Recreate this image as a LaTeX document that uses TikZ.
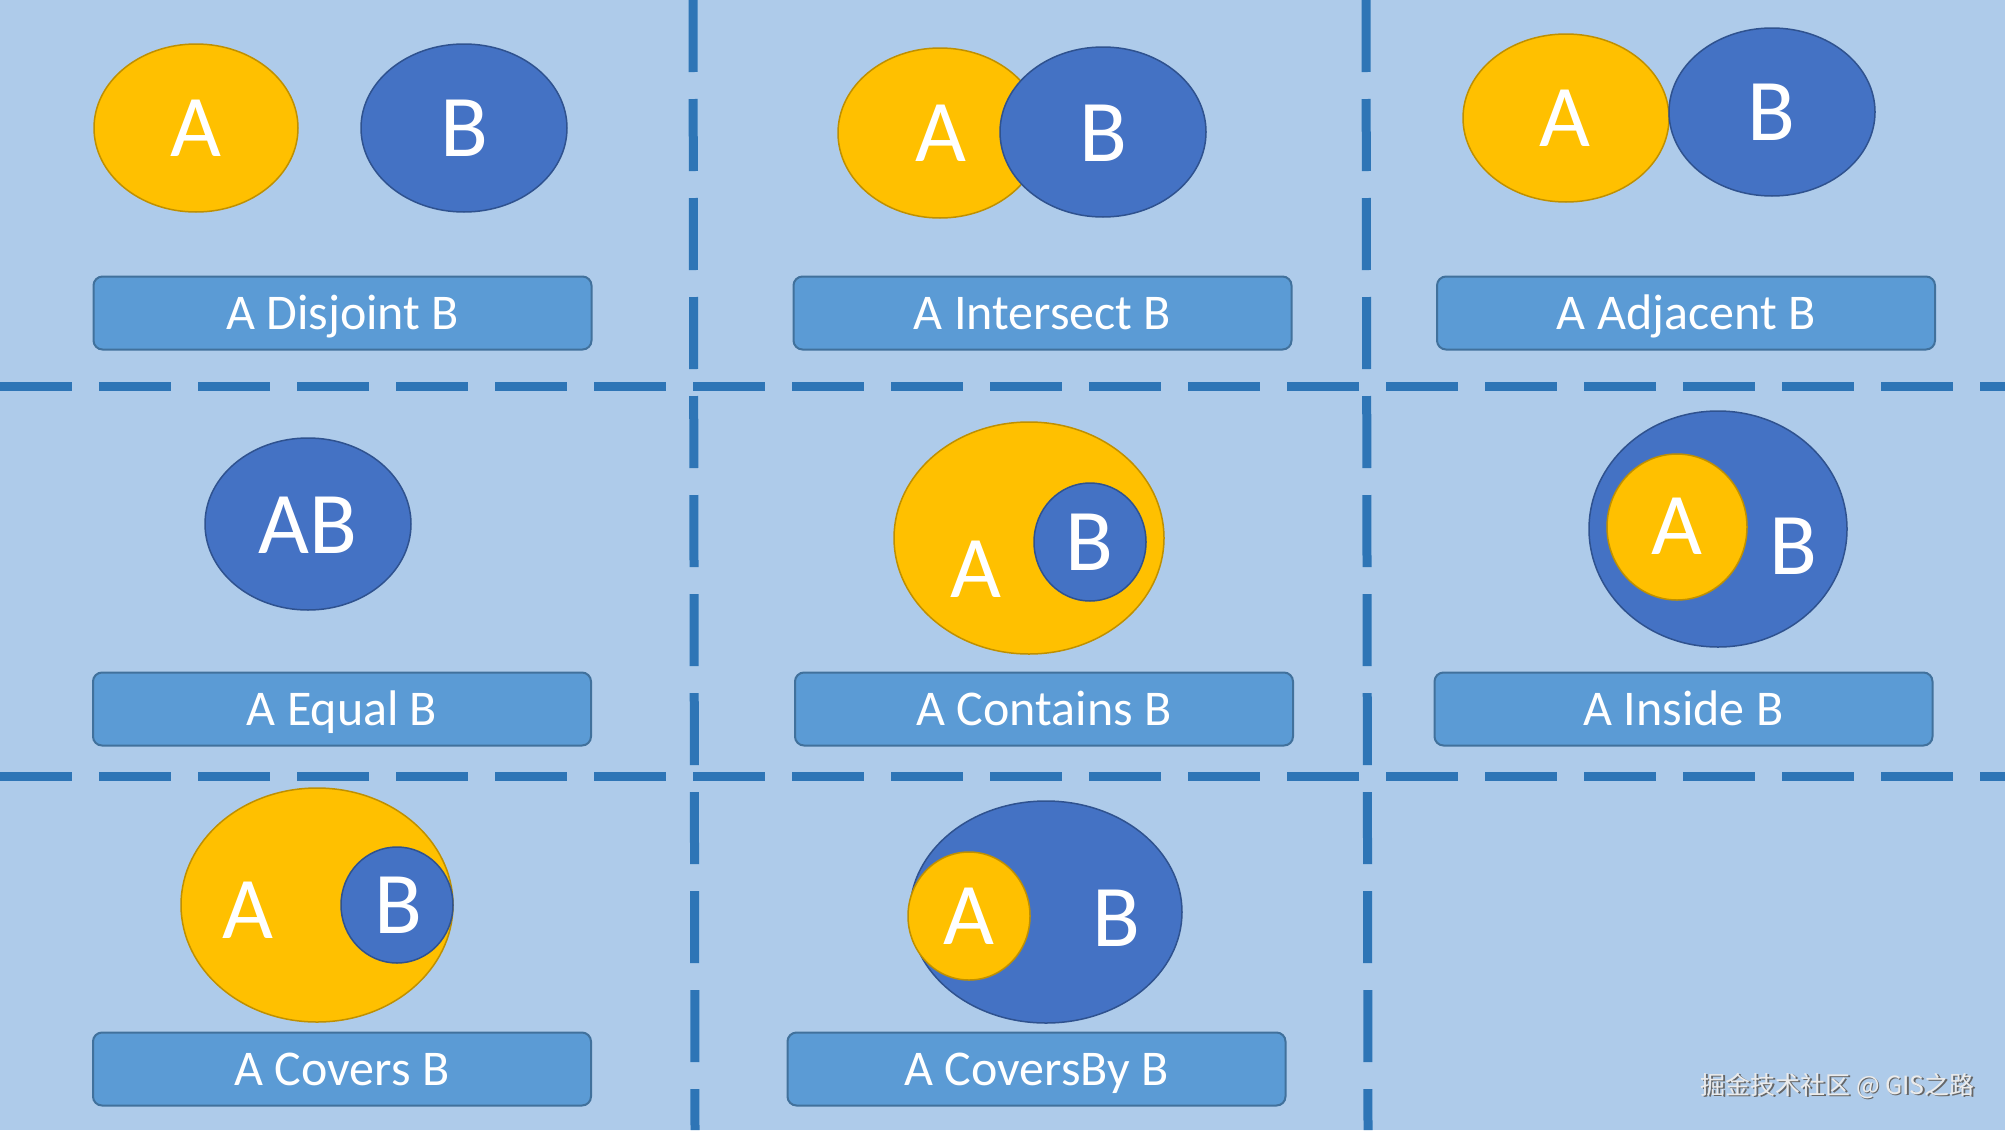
\documentclass[tikz,border=0pt]{standalone}
\usepackage{fontspec}
\setmainfont{Carlito}
\newfontfamily\cjkwm{Noto Sans CJK SC}
\definecolor{bg}{HTML}{AECBEA}
\definecolor{dline}{HTML}{2E75B6}
\definecolor{ya}{HTML}{FFC000}
\definecolor{yaB}{HTML}{BF9000}
\definecolor{bb}{HTML}{4472C4}
\definecolor{bbB}{HTML}{2F528F}
\definecolor{lab}{HTML}{5B9BD5}
\definecolor{labB}{HTML}{41719C}
\begin{document}
\begin{tikzpicture}[x=1pt,y=-1pt,
  sepline/.style={dline, line width=9pt, dash pattern=on 72pt off 27pt},
  setA/.style={fill=ya, draw=yaB, line width=1.5pt},
  setB/.style={fill=bb, draw=bbB, line width=1.5pt},
  labelbox/.style={fill=lab, draw=labB, line width=2pt, rounded corners=9pt,
    minimum width=498pt, minimum height=73pt, text=white, inner sep=0pt,
    text height=32pt, text depth=0pt, font=\fontsize{50}{60}\selectfont},
  bigletter/.style={text=white, font=\fontsize{88}{100}\selectfont, anchor=base, inner sep=0pt},
  wmtext/.style={font=\cjkwm\fontsize{25}{30}\selectfont, anchor=east, inner sep=0pt},
]
\fill[bg] (0,0) rectangle (2005,1130);
\useasboundingbox (0,0) rectangle (2005,1130);

% separators
\draw[sepline] (0,386) -- (2005,386);
\draw[sepline] (0,776) -- (2005,776);
\draw[sepline] (693,0) -- (695,1130);
\draw[sepline] (1366,0) -- (1368,1130);

% cell 1: disjoint
\draw[setA] (196,128) ellipse [x radius=102, y radius=84];
\draw[setB] (464,128) ellipse [x radius=103, y radius=84];
\node[bigletter] (a1) at (196,156) {A};
\node[bigletter] (b1) at (464,156) {B};
\node[labelbox] (l1) at (342.5,313) {A Disjoint B};

% cell 2: intersect
\draw[setA] (940,133) ellipse [x radius=102, y radius=85];
\draw[setB] (1103,132) ellipse [x radius=103, y radius=85];
\node[bigletter] (a2) at (941,161) {A};
\node[bigletter] (b2) at (1103,161) {B};
\node[labelbox] (l2) at (1042.5,313) {A Intersect B};

% cell 3: adjacent
\draw[setA] (1566,118) ellipse [x radius=103, y radius=84];
\draw[setB] (1772,112) ellipse [x radius=103, y radius=84];
\node[bigletter] (a3) at (1565,146) {A};
\node[bigletter] (b3) at (1771,140) {B};
\node[labelbox] (l3) at (1686,313) {A Adjacent B};

% cell 4: equal
\draw[setB] (308,524) ellipse [x radius=103, y radius=86];
\node[bigletter] (ab4) at (308,553) {AB};
\node[labelbox] (l4) at (342,709) {A Equal B};

% cell 5: contains
\draw[setA] (1029,538) ellipse [x radius=135, y radius=116];
\draw[setB] (1090,542) ellipse [x radius=56, y radius=59];
\node[bigletter] (a5) at (976,597) {A};
\node[bigletter] (b5) at (1089,570) {B};
\node[labelbox] (l5) at (1044,709) {A Contains B};

% cell 6: inside
\draw[setB] (1718,529) ellipse [x radius=129, y radius=118];
\draw[setA] (1677,527) ellipse [x radius=70, y radius=73];
\node[bigletter] (a6) at (1677,554) {A};
\node[bigletter] (b6) at (1793,574) {B};
\node[labelbox] (l6) at (1683.5,709) {A Inside B};

% cell 7: covers
\draw[setA] (317,905) ellipse [x radius=136, y radius=117];
\draw[setB] (397,905) ellipse [x radius=56, y radius=58];
\node[bigletter] (a7) at (248,938) {A};
\node[bigletter] (b7) at (398,933) {B};
\node[labelbox] (l7) at (342,1069) {A Covers B};

% cell 8: coveredby
\draw[setB] (1046,912) ellipse [x radius=136, y radius=111];
\draw[setA] (969,916) ellipse [x radius=61, y radius=64];
\node[bigletter] (a8) at (969,944) {A};
\node[bigletter] (b8) at (1116,946) {B};
\node[labelbox] (l8) at (1036.5,1069) {A CoversBy B};

% watermark
\node[wmtext, text=black!60] (wms) at (1976.5,1087.5) {掘金技术社区 @ GIS之路};
\node[wmtext, text=black!8] (wm) at (1975,1086) {掘金技术社区 @ GIS之路};
\end{tikzpicture}
\end{document}
